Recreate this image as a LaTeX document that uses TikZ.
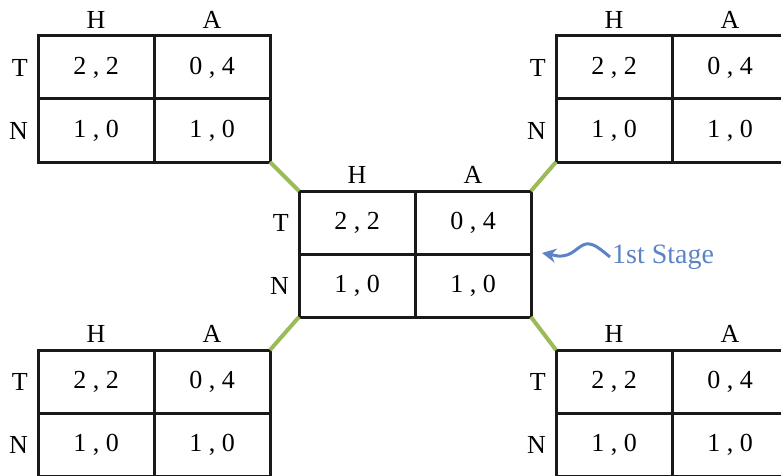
\documentclass[tikz,border=0pt]{standalone}
\usepackage{fontspec}
\setmainfont{Liberation Serif}
\usetikzlibrary{arrows.meta}
\definecolor{olivegreen}{HTML}{9BBB59}
\definecolor{stageblue}{HTML}{5B83C6}
\tikzset{
  cellbox/.style={draw=black!90, line width=3pt, outer sep=0pt, minimum width=116pt, minimum height=63pt, inner sep=0pt, anchor=north west, font=\fontsize{26}{28}\selectfont},
  headlbl/.style={font=\fontsize{26}{28}\selectfont, inner sep=0pt},
  branch/.style={draw=olivegreen, line width=4pt},
}
\newcommand{\payoffgame}[3]{%
  \node[cellbox] (#1-11) at (#2,#3) {2 , 2};
  \node[cellbox] (#1-12) at (#1-11.north east) {0 , 4};
  \node[cellbox] (#1-21) at (#1-11.south west) {1 , 0};
  \node[cellbox] (#1-22) at (#1-11.south east) {1 , 0};
  \node[headlbl, above=7pt] (#1-H) at (#1-11.north) {H};
  \node[headlbl, above=7pt] (#1-A) at (#1-12.north) {A};
  \node[headlbl, left=10pt] (#1-T) at (#1-11.west) {T};
  \node[headlbl, left=10pt] (#1-N) at (#1-21.west) {N};
}
\begin{document}
\begin{tikzpicture}[x=1pt, y=-1pt]
\useasboundingbox (0,0) rectangle (781,476);
\payoffgame{tl}{38}{36}
\payoffgame{tr}{556}{36}
\payoffgame{c}{299}{191}
\payoffgame{bl}{38}{350}
\payoffgame{br}{556}{350}
\draw[branch] (tl-22.south east) -- (c-11.north west);
\draw[branch] (tr-21.south west) -- (c-12.north east);
\draw[branch] (bl-12.north east) -- (c-21.south west);
\draw[branch] (br-11.north west) -- (c-22.south east);
\node[anchor=west, text=stageblue, inner sep=0pt, font=\fontsize{28}{30}\selectfont] (stage) at (612,257) {1st Stage};
\coordinate (tip) at (542,253);
\draw[stageblue, line width=3pt, -{Stealth[length=14pt,width=14pt]}]
  ([xshift=-2pt]stage.west) .. controls (600,249) and (594,243) .. (586,244)
  .. controls (577,246) and (573,257) .. (558,256) -- (tip);
\end{tikzpicture}
\end{document}
